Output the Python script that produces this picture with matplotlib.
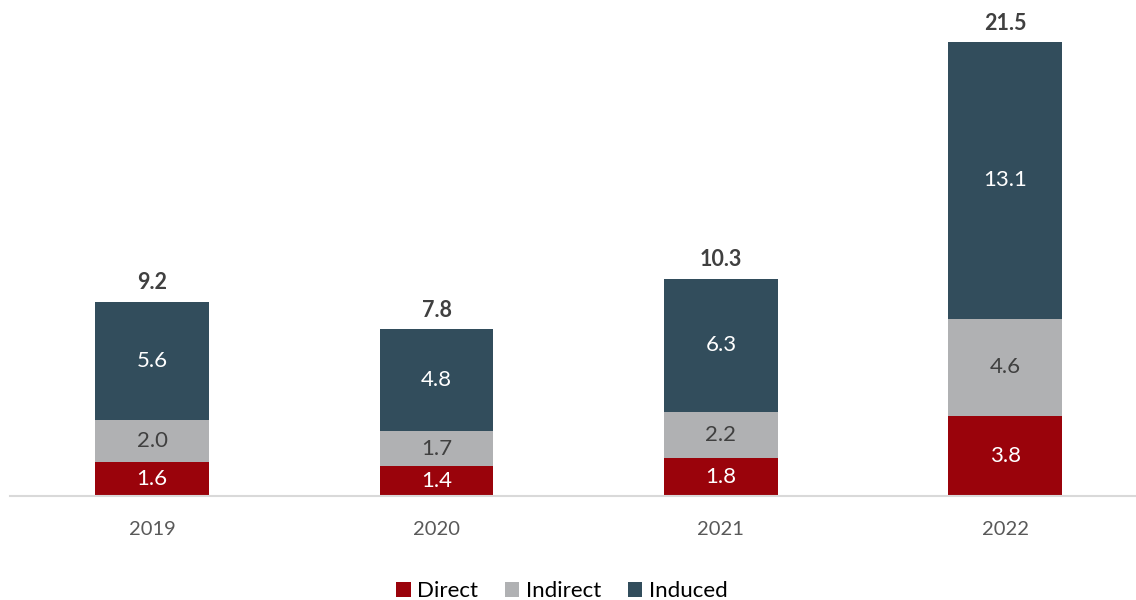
import matplotlib
matplotlib.use("Agg")
import matplotlib.pyplot as plt
from matplotlib.patches import Patch

years = ["2019", "2020", "2021", "2022"]
direct = [1.6, 1.4, 1.8, 3.8]
indirect = [2.0, 1.7, 2.2, 4.6]
induced = [5.6, 4.8, 6.3, 13.1]
totals = [9.2, 7.8, 10.3, 21.5]

series_names = ["Direct", "Indirect", "Induced"]
colors = ["#9A030B", "#B0B1B3", "#324D5C"]
label_colors = ["white", "#404040", "white"]

plt.rcParams['font.family'] = ['Lato', 'DejaVu Sans']

fig = plt.figure(figsize=(11.36, 6), dpi=100)
ax = fig.add_axes([10/1136, 104/600, 1126/1136, 496/600])

x = list(range(len(years)))
bottom = [0.0]*len(years)
for vals, c, lc in zip([direct, indirect, induced], colors, label_colors):
    ax.bar(x, vals, bottom=bottom, width=0.4, color=c, edgecolor='none')
    for xi, v, b in zip(x, vals, bottom):
        ax.text(xi, b + v/2, f"{v:.1f}", ha='center', va='center',
                color=lc, fontsize=16)
    bottom = [b + v for b, v in zip(bottom, vals)]

for xi, t, b in zip(x, totals, bottom):
    ax.text(xi, b + 0.4, f"{t:.1f}", ha='center', va='bottom',
            color='#404040', fontsize=15.5, fontweight='bold')

ax.set_xlim(-0.5, 3.46)
ax.set_ylim(0, 23.5)
ax.set_yticks([])
ax.set_xticks(x)
ax.set_xticklabels(years, color='#595959', fontsize=14.5)
ax.tick_params(axis='x', length=0, pad=18)
for s in ['top', 'right', 'left']:
    ax.spines[s].set_visible(False)
ax.spines['bottom'].set_color('#D9D9D9')
ax.spines['bottom'].set_linewidth(1.5)

handles = [Patch(facecolor=c, edgecolor='none') for c in colors]
fig.legend(handles, series_names, loc='center', bbox_to_anchor=(562/1136, 1 - 591/600),
           ncol=3, frameon=False, fontsize=16, handlelength=0.65, handleheight=0.65,
           handletextpad=0.3, columnspacing=1.2)

fig.savefig("out.png", dpi=100)
